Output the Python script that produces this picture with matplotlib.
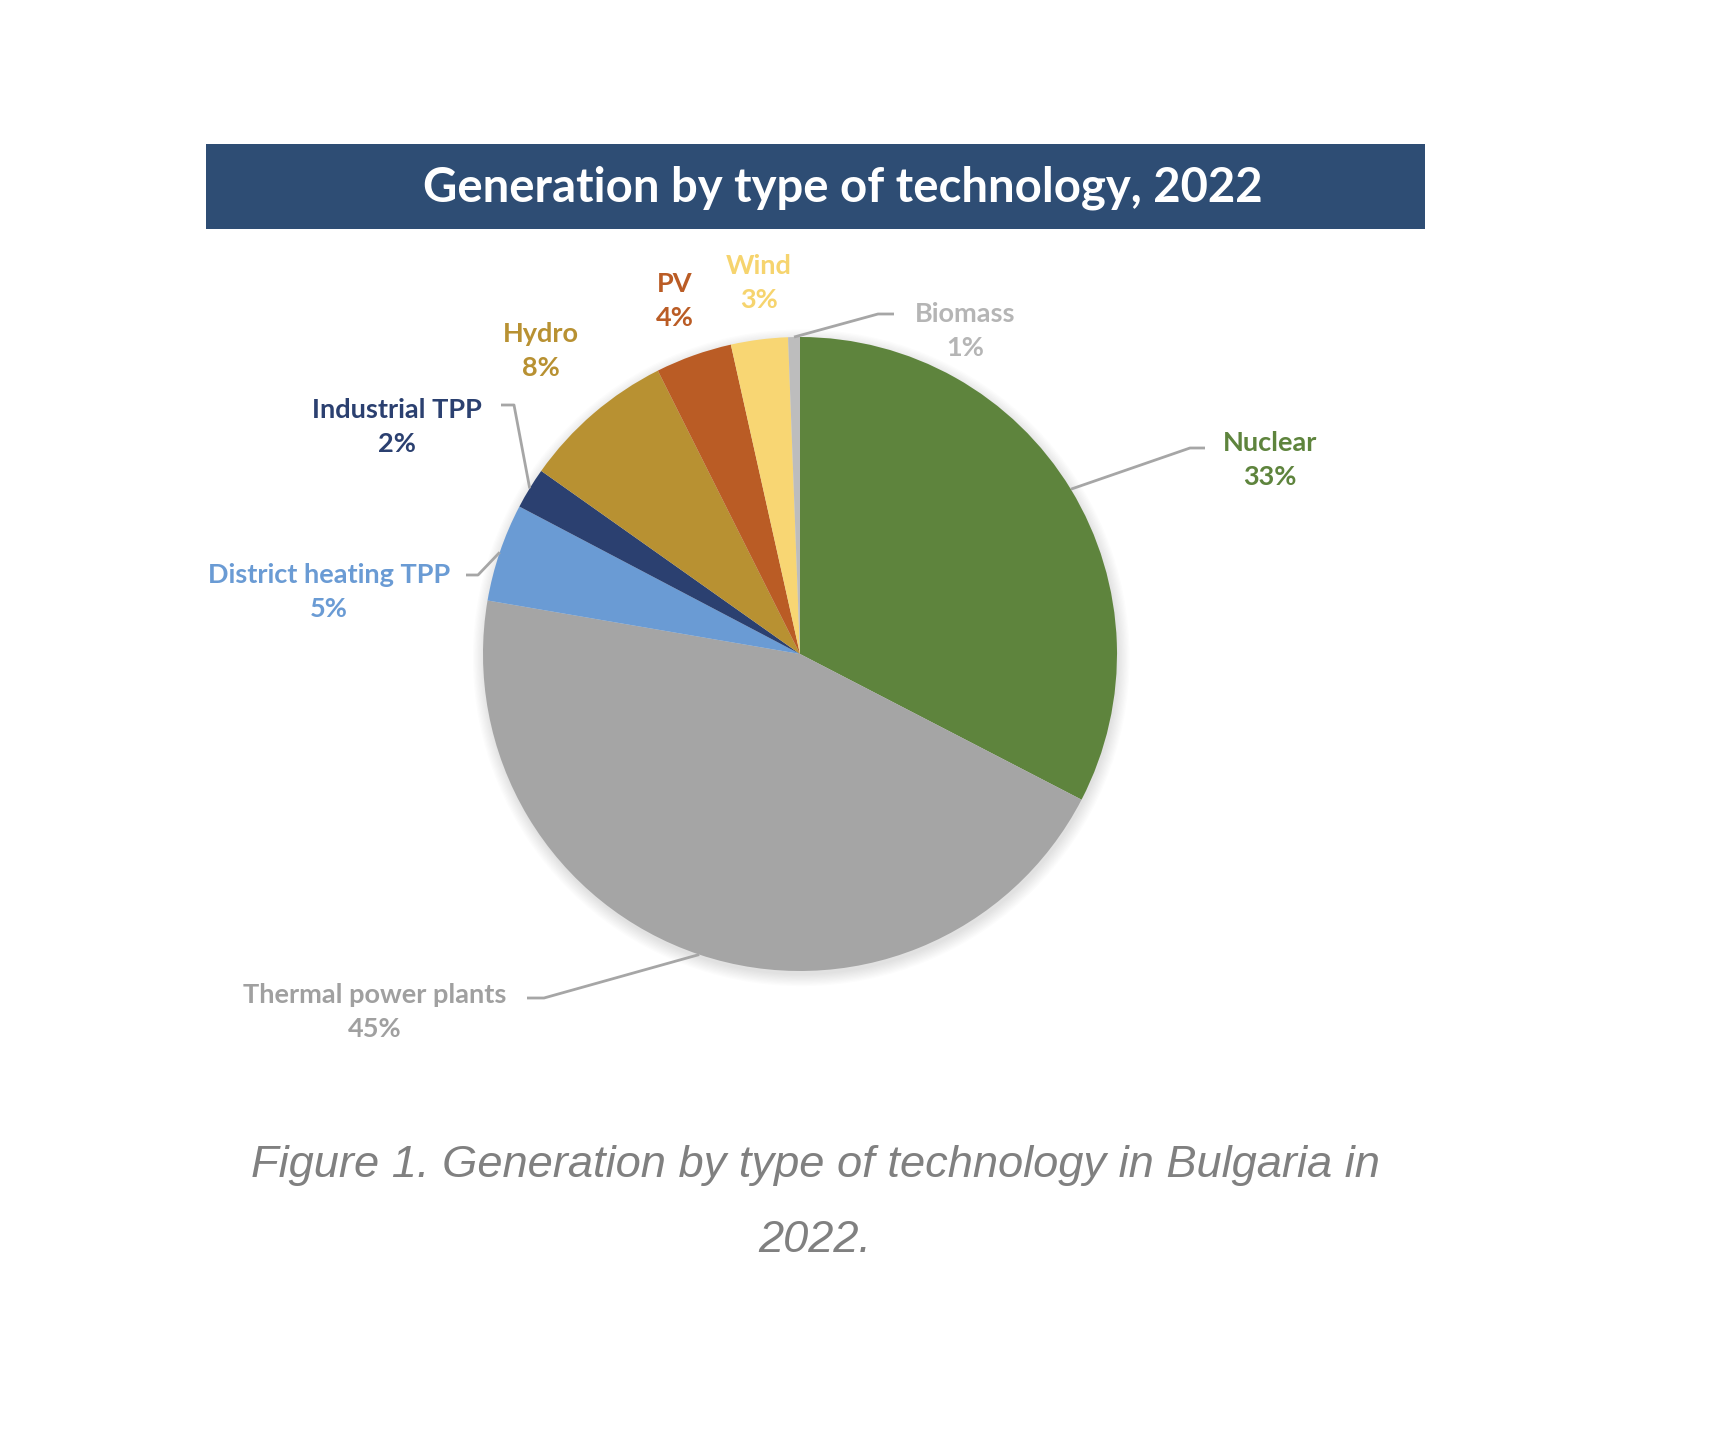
import numpy as np
import matplotlib.pyplot as plt
from matplotlib.patches import Rectangle, Circle

# data (shares in %)
labels = ['Nuclear', 'Thermal power plants', 'District heating TPP', 'Industrial TPP',
          'Hydro', 'PV', 'Wind', 'Biomass']
shares = [32.6, 45.1, 5.0, 2.1, 7.8, 3.9, 2.9, 0.6]
shown = ['33%', '45%', '5%', '2%', '8%', '4%', '3%', '1%']
colors = ['#5E843D', '#A5A5A5', '#6A9BD4', '#2B4070', '#B89132', '#BA5C25', '#F8D673', '#BDBDBD']
text_colors = ['#5E843D', '#A0A0A0', '#6A9BD4', '#2B4070', '#B89132', '#BA5C25', '#F6D46E', '#B5B5B5']

W, H = 1715, 1435
fig = plt.figure(figsize=(W / 100, H / 100), dpi=100)
fig.patch.set_facecolor('white')

# overlay axes in pixel coords (y down)
ov = fig.add_axes([0, 0, 1, 1], zorder=2)
ov.set_xlim(0, W)
ov.set_ylim(H, 0)
ov.axis('off')
ov.patch.set_alpha(0)

# pie axes: center (800, 654), radius 317 px
cx, cy, r = 800, 654, 317
ax = fig.add_axes([(cx - r) / W, (H - cy - r) / H, 2 * r / W, 2 * r / H], zorder=1)
for i in range(10):
    ax.add_patch(Circle((0.004, -0.012), 1.0 + 0.004 * i, color='black', alpha=0.012,
                        lw=0, zorder=0, clip_on=False))
wedges, _ = ax.pie(shares, colors=colors, startangle=90, counterclock=False,
                   wedgeprops=dict(linewidth=0), radius=1)
ax.set_xlim(-1, 1)
ax.set_ylim(-1, 1)
ax.set_aspect('auto')
ax.axis('off')

# title bar
ov.add_patch(Rectangle((206, 144), 1219, 85, facecolor='#2E4D74', edgecolor='none'))
ov.text(843, 188, 'Generation by type of technology, 2022', color='white',
        fontsize=34, fontweight='bold', family='Lato', ha='center', va='center')

# label positions (name line centre) and leader elbows, in pixels
label_pos = {
    'Nuclear': (1270, 443),
    'Thermal power plants': (375, 995),
    'District heating TPP': (329, 575),
    'Industrial TPP': (397, 410),
    'Hydro': (541, 334),
    'PV': (675, 284),
    'Wind': (759, 266),
    'Biomass': (965, 314),
}
leaders = {
    'Nuclear': [(1205, 448), (1190, 448)],
    'Thermal power plants': [(527, 998), (544, 998)],
    'District heating TPP': [(466, 575), (478, 575)],
    'Industrial TPP': [(501, 405), (514, 405)],
    'Biomass': [(894, 314), (878, 314)],
}

cum = np.cumsum([0] + shares)
inv = ov.transData.inverted()
for i, name in enumerate(labels):
    x, y = label_pos[name]
    ov.text(x, y, name, color=text_colors[i], fontsize=19.5, fontweight='bold',
            family='Lato', ha='center', va='center')
    ov.text(x, y + 34, shown[i], color=text_colors[i], fontsize=19.5, fontweight='bold',
            family='Lato', ha='center', va='center')
    if name in leaders:
        mid = (cum[i] + cum[i + 1]) / 2 / 100.0
        ang = np.deg2rad(90 - 360 * mid)
        px, py = inv.transform(ax.transData.transform((np.cos(ang), np.sin(ang))))
        pts = leaders[name] + [(px, py)]
        ov.plot([p[0] for p in pts], [p[1] for p in pts], color='#A6A6A6', lw=2,
                solid_capstyle='butt')

# caption
ov.text(815, 1166, 'Figure 1. Generation by type of technology in Bulgaria in',
        color='#808080', fontsize=32.6, style='italic', family='Liberation Sans',
        ha='center', va='center')
ov.text(815, 1240, '2022.', color='#808080', fontsize=32.6, style='italic',
        family='Liberation Sans', ha='center', va='center')

fig.savefig('out.png', dpi=100)
